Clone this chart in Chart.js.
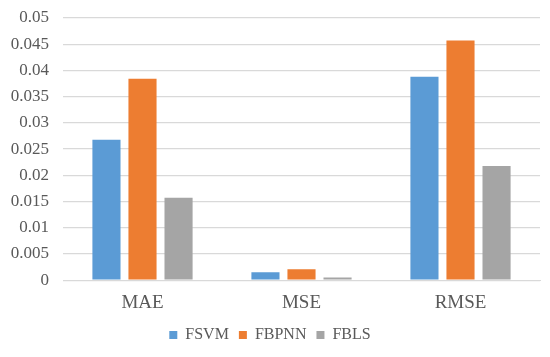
<!DOCTYPE html>
<html>
<head>
<meta charset="utf-8">
<script src="https://cdn.jsdelivr.net/npm/chart.js@4/dist/chart.umd.min.js"></script>
<style>
  html, body { margin: 0; padding: 0; background: #fff; }
  #wrap { width: 550px; height: 357px; }
</style>
</head>
<body>
<div id="wrap"><canvas id="chart"></canvas></div>
<script>
const categories = ["MAE", "MSE", "RMSE"];
const fsvm = [0.0268, 0.0015, 0.0388];
const fbpnn = [0.0384, 0.0021, 0.0457];
const fbls = [0.0157, 0.0005, 0.0218];
const yTickLabels = ["0", "0.005", "0.01", "0.015", "0.02", "0.025", "0.03", "0.035", "0.04", "0.045", "0.05"];

Chart.defaults.font.family = "Liberation Serif";
Chart.defaults.color = "#595959";

const ctx = document.getElementById("chart");

new Chart(ctx, {
  type: "bar",
  data: {
    labels: categories,
    datasets: [
      { label: "FSVM", data: fsvm, backgroundColor: "#5B9BD5" },
      { label: "FBPNN", data: fbpnn, backgroundColor: "#ED7D31" },
      { label: "FBLS", data: fbls, backgroundColor: "#A5A5A5" }
    ]
  },
  options: {
    responsive: true,
    maintainAspectRatio: false,
    animation: false,
    layout: { padding: { top: 18, right: 10, left: 0, bottom: 4 } },
    datasets: {
      bar: { categoryPercentage: 0.68, barPercentage: 0.78 }
    },
    plugins: {
      tooltip: { enabled: false },
      legend: {
        position: "bottom",
        labels: {
          font: { size: 16 },
          color: "#595959",
          boxWidth: 8,
          boxHeight: 8,
          padding: 10
        }
      }
    },
    scales: {
      x: {
        grid: { display: false },
        border: { color: "#D9D9D9" },
        ticks: {
          font: { size: 19 },
          color: "#595959",
          padding: 3
        }
      },
      y: {
        min: 0,
        max: 0.05,
        afterFit: (scale) => { scale.width = 63; },
        border: { display: false },
        grid: { color: "#D9D9D9", lineWidth: 1.3, drawTicks: true, tickLength: 12, tickColor: "#fff" },
        ticks: {
          stepSize: 0.005,
          font: { size: 17 },
          color: "#595959",
          padding: 2,
          callback: (value, index) => yTickLabels[index]
        }
      }
    }
  }
});
</script>
</body>
</html>
